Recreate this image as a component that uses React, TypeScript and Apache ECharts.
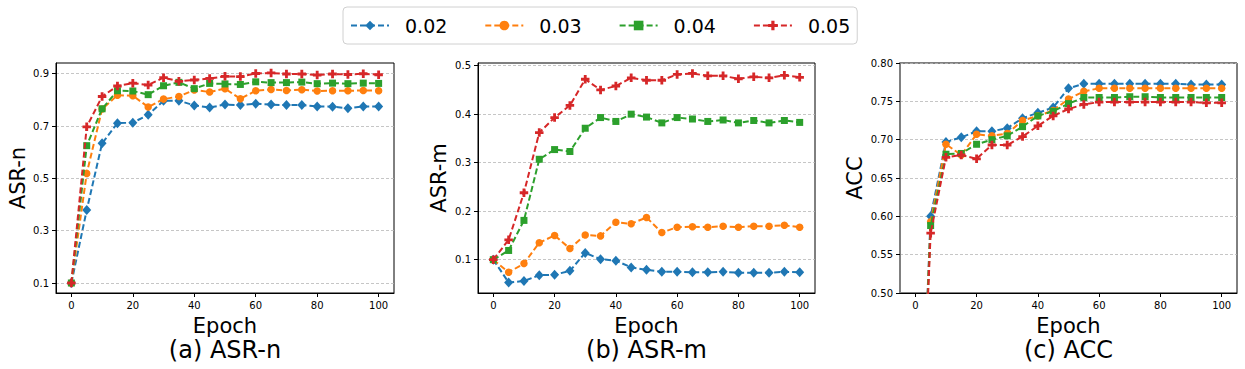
import React, { useEffect, useRef } from "react";
import * as echarts from "echarts";

const FONT = "DejaVu Sans";

const epochs = [0, 5, 10, 15, 20, 25, 30, 35, 40, 45, 50, 55, 60, 65, 70, 75, 80, 85, 90, 95, 100];
const seriesNames = ["0.02", "0.03", "0.04", "0.05"];
const colors = ["#1f77b4", "#ff7f0e", "#2ca02c", "#d62728"];

const xTicks = [0, 20, 40, 60, 80, 100];
const asrNTicks = [0.1, 0.3, 0.5, 0.7, 0.9];
const asrMTicks = [0.1, 0.2, 0.3, 0.4, 0.5];

// (a) ASR-n
const asrN_002 = [0.1, 0.379, 0.634, 0.711, 0.713, 0.743, 0.797, 0.797, 0.779, 0.771, 0.782, 0.78, 0.785, 0.782, 0.78, 0.78, 0.775, 0.774, 0.768, 0.775, 0.775];
const asrN_003 = [0.1, 0.519, 0.765, 0.818, 0.816, 0.773, 0.803, 0.813, 0.838, 0.83, 0.843, 0.804, 0.835, 0.84, 0.836, 0.839, 0.834, 0.835, 0.835, 0.836, 0.835];
const asrN_004 = [0.1, 0.625, 0.766, 0.835, 0.834, 0.82, 0.854, 0.867, 0.843, 0.863, 0.861, 0.859, 0.869, 0.866, 0.866, 0.868, 0.862, 0.864, 0.862, 0.864, 0.863];
const asrN_005 = [0.1, 0.697, 0.813, 0.853, 0.864, 0.857, 0.885, 0.871, 0.876, 0.882, 0.89, 0.889, 0.901, 0.903, 0.899, 0.899, 0.895, 0.899, 0.897, 0.9, 0.896];

// (b) ASR-m
const asrM_002 = [0.1, 0.053, 0.056, 0.068, 0.069, 0.077, 0.114, 0.101, 0.098, 0.084, 0.079, 0.075, 0.075, 0.074, 0.074, 0.075, 0.073, 0.073, 0.073, 0.075, 0.074];
const asrM_003 = [0.1, 0.074, 0.092, 0.135, 0.15, 0.123, 0.151, 0.149, 0.177, 0.174, 0.187, 0.156, 0.167, 0.168, 0.167, 0.169, 0.167, 0.169, 0.169, 0.171, 0.167];
const asrM_004 = [0.1, 0.119, 0.181, 0.307, 0.327, 0.323, 0.371, 0.393, 0.385, 0.4, 0.394, 0.382, 0.393, 0.39, 0.385, 0.388, 0.382, 0.387, 0.382, 0.387, 0.383];
const asrM_005 = [0.1, 0.141, 0.238, 0.362, 0.393, 0.418, 0.472, 0.45, 0.458, 0.475, 0.47, 0.47, 0.482, 0.484, 0.479, 0.479, 0.473, 0.477, 0.475, 0.48, 0.476];

// (c) ACC
const acc_002 = [0.1, 0.6, 0.697, 0.703, 0.711, 0.711, 0.715, 0.728, 0.735, 0.742, 0.767, 0.773, 0.773, 0.773, 0.773, 0.773, 0.773, 0.773, 0.772, 0.772, 0.772];
const acc_003 = [0.1, 0.593, 0.694, 0.68, 0.707, 0.705, 0.708, 0.725, 0.731, 0.738, 0.753, 0.763, 0.767, 0.767, 0.767, 0.767, 0.767, 0.767, 0.767, 0.767, 0.767];
const acc_004 = [0.1, 0.588, 0.681, 0.682, 0.694, 0.7, 0.705, 0.717, 0.731, 0.737, 0.747, 0.755, 0.755, 0.755, 0.756, 0.756, 0.755, 0.755, 0.755, 0.755, 0.755];
const acc_005 = [0.1, 0.578, 0.677, 0.68, 0.675, 0.693, 0.693, 0.704, 0.718, 0.731, 0.74, 0.746, 0.749, 0.749, 0.749, 0.749, 0.749, 0.749, 0.749, 0.748, 0.748];

const panelTitles = ["(a) ASR-n", "(b) ASR-m", "(c) ACC"];
const yNames = ["ASR-n", "ASR-m", "ACC"];
const panelData = [
  [asrN_002, asrN_003, asrN_004, asrN_005],
  [asrM_002, asrM_003, asrM_004, asrM_005],
  [acc_002, acc_003, acc_004, acc_005],
];

const PLUS = "path://M3,0H6V3H9V6H6V9H3V6H0V3H3Z";
const symbols = ["diamond", "circle", "rect", PLUS];
const symbolSizes: any[] = [[9, 10], 7.5, 7, 8.5];

const gridPos = [
  { left: 56, width: 338 },
  { left: 478, width: 337 },
  { left: 900, width: 337 },
];

export default function App() {
  const ref = useRef<HTMLDivElement>(null);
  useEffect(() => {
    if (!ref.current) return;
    const chart = echarts.init(ref.current, undefined, { renderer: "svg" });
    const tickLabel = { color: "#000", fontSize: 10, fontFamily: FONT, lineHeight: 11 };
    const nameStyle = { color: "#000", fontSize: 21, fontFamily: FONT, lineHeight: 20 };
    const splitStyle = { color: "#b8b8b8", width: 0.8, type: [3, 2] as any };

    const grid = gridPos.map((g) => ({
      left: g.left,
      top: 63,
      width: g.width,
      height: 230,
      show: true,
      borderColor: "#000",
      borderWidth: 1,
      backgroundColor: "transparent",
    }));

    const xAxis = [0, 1, 2].map((i) => ({
      gridIndex: i,
      type: "value",
      min: -5,
      max: 105,
      axisLine: { show: true, onZero: false, lineStyle: { color: "#000", width: 1 } },
      axisTick: { show: true, customValues: xTicks, length: 4, lineStyle: { color: "#000" } },
      axisLabel: { customValues: xTicks, margin: 7, ...tickLabel },
      splitLine: { show: false },
      name: "Epoch",
      nameLocation: "middle",
      nameGap: 17.5,
      nameTextStyle: nameStyle,
    }));

    const yAxis: any[] = [
      {
        gridIndex: 0,
        type: "value",
        min: 0.0618,
        max: 0.941,
        axisLine: { show: true, onZero: false, lineStyle: { color: "#000", width: 1 } },
        axisTick: { show: true, customValues: asrNTicks, length: 4, lineStyle: { color: "#000" } },
        axisLabel: { customValues: asrNTicks, margin: 7, formatter: (v: number) => v.toFixed(1), ...tickLabel },
        splitLine: { show: true, lineStyle: splitStyle },
        name: yNames[0],
        nameLocation: "middle",
        nameGap: 28,
        nameTextStyle: nameStyle,
      },
      {
        gridIndex: 1,
        type: "value",
        min: 0.0313,
        max: 0.5055,
        axisLine: { show: true, onZero: false, lineStyle: { color: "#000", width: 1 } },
        axisTick: { show: true, customValues: asrMTicks, length: 4, lineStyle: { color: "#000" } },
        axisLabel: { customValues: asrMTicks, margin: 7, formatter: (v: number) => v.toFixed(1), ...tickLabel },
        splitLine: { show: true, lineStyle: splitStyle },
        name: yNames[1],
        nameLocation: "middle",
        nameGap: 29,
        nameTextStyle: nameStyle,
      },
      {
        gridIndex: 2,
        type: "value",
        min: 0.5,
        max: 0.8,
        interval: 0.05,
        axisLine: { show: true, onZero: false, lineStyle: { color: "#808080", width: 2 } },
        axisTick: { show: true, length: 4, lineStyle: { color: "#000" } },
        axisLabel: { margin: 7, formatter: (v: number) => v.toFixed(2), ...tickLabel },
        splitLine: { show: true, lineStyle: splitStyle },
        name: yNames[2],
        nameLocation: "middle",
        nameGap: 35,
        nameTextStyle: nameStyle,
      },
    ];

    const series: any[] = [];
    panelData.forEach((panel, p) => {
      panel.forEach((vals, k) => {
        series.push({
          type: "line",
          name: seriesNames[k],
          xAxisIndex: p,
          yAxisIndex: p,
          data: epochs.map((e, i) => [e, vals[i]]),
          symbol: symbols[k],
          symbolSize: symbolSizes[k],
          showSymbol: true,
          clip: true,
          lineStyle: { color: colors[k], width: 2, type: [6, 3] },
          itemStyle: { color: colors[k] },
          z: 2 + k,
        });
      });
    });

    chart.setOption({
      animation: false,
      backgroundColor: "#fff",
      grid,
      xAxis,
      yAxis,
      series,
      legend: {
        data: seriesNames,
        left: 343,
        top: 7,
        orient: "horizontal",
        itemWidth: 38,
        itemHeight: 12,
        itemGap: 37,
        padding: [7, 7],
        borderColor: "#d0d0d0",
        borderWidth: 1,
        borderRadius: 4,
        backgroundColor: "#fff",
        textStyle: { fontSize: 19, fontFamily: FONT, color: "#000", padding: [0, 0, 0, 11], lineHeight: 23 },
      },
      graphic: panelTitles.map((t, i) => ({
        type: "text",
        x: gridPos[i].left + gridPos[i].width / 2,
        y: 350,
        style: { text: t, fontSize: 24, lineHeight: 22, fontFamily: FONT, fill: "#000", align: "center", verticalAlign: "middle" },
      })),
    });
    return () => chart.dispose();
  }, []);
  return (
    <div
      ref={ref}
      style={{ position: "fixed", left: 0, top: 0, width: 1245, height: 369, background: "#fff" }}
    />
  );
}
